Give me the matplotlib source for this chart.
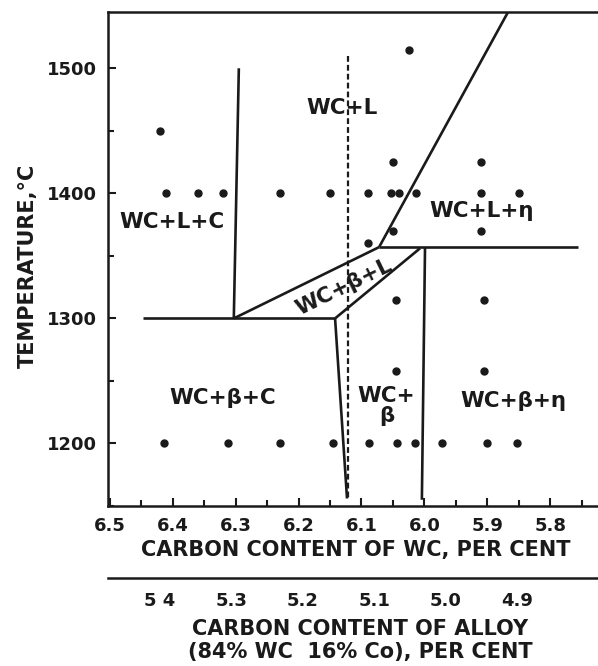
import matplotlib.pyplot as plt
from matplotlib.ticker import MultipleLocator, FixedLocator
import numpy as np

plt.rcParams['font.family'] = ['DejaVu Sans']
plt.rcParams['font.weight'] = 'bold'
plt.rcParams['axes.labelweight'] = 'bold'

# experimental points: carbon content of WC (%) and temperature (C)
row1400_c = [6.41, 6.36, 6.32, 6.23, 6.15, 6.09, 6.053, 6.04, 6.013, 5.91, 5.85]
row1200_c = [6.414, 6.312, 6.23, 6.145, 6.088, 6.044, 6.015, 5.972, 5.901, 5.853]
other_c = [6.42, 6.025, 6.05, 5.91, 6.05, 6.09, 5.91, 6.045, 5.905, 6.045, 5.905]
other_t = [1450, 1515, 1425, 1425, 1370, 1360, 1370, 1315, 1315, 1258, 1258]

# phase boundaries (carbon %, temperature)
boundaries = [
    ([6.295, 6.303], [1500, 1300]),   # WC+L+C | WC+L
    ([6.448, 6.142], [1300, 1300]),   # eutectic
    ([6.303, 6.072], [1300, 1357]),   # WC+b+L upper edge
    ([6.142, 6.007], [1300, 1356]),   # WC+b+L lower edge
    ([6.072, 5.867], [1357, 1545]),   # WC+L | WC+L+eta
    ([6.072, 5.756], [1357, 1357]),   # eta horizontal
    ([5.999, 6.004], [1357, 1155]),   # WC+b | WC+b+eta
    ([6.142, 6.123], [1300, 1156]),   # WC+b+C | WC+b
]
stoich_c = [6.122, 6.122]
stoich_t = [1510, 1156]

regions = ['WC+L+C', 'WC+L', 'WC+L+η', 'WC+β+L', 'WC+β+C', 'WC+\nβ', 'WC+β+η']
region_c = [6.401, 6.131, 5.909, 6.128, 6.32, 6.06, 5.859]
region_t = [1377, 1468, 1386, 1325, 1236, 1230, 1234]
region_rot = [0, 0, 0, 26, 0, 0, 0]

alloy_ticks = [5.4, 5.3, 5.2, 5.1, 5.0, 4.9]
# alloy carbon scale as drawn (linear against WC carbon)
A0, W0, K = 5.4, 6.4205, 1.135

fig = plt.figure(figsize=(5.98, 6.66), dpi=100)
ax = fig.add_axes([108 / 598, 1 - 506 / 666, 490 / 598, 494 / 666])

ink = '#1a1a1a'
for xs, ys in boundaries:
    ax.plot(xs, ys, color=ink, lw=1.9, solid_capstyle='butt')
ax.plot(stoich_c, stoich_t, color=ink, lw=1.6, linestyle=(0, (2.6, 1.4)))

ax.plot(row1400_c, [1400] * len(row1400_c), 'o', color=ink, ms=5)
ax.plot(row1200_c, [1200] * len(row1200_c), 'o', color=ink, ms=5)
ax.plot(other_c, other_t, 'o', color=ink, ms=5)

for lab, c, t, r in zip(regions, region_c, region_t, region_rot):
    ax.text(c, t, lab, ha='center', va='center', rotation=r, fontsize=15.5,
            color=ink, linespacing=0.95)

ax.xaxis.set_major_locator(MultipleLocator(0.1))
ax.xaxis.set_minor_locator(MultipleLocator(0.05))
ax.yaxis.set_major_locator(MultipleLocator(100))
ax.yaxis.set_minor_locator(MultipleLocator(50))
ax.xaxis.set_major_formatter(lambda v, pos: '%.1f' % v)
ax.tick_params(which='both', direction='in', width=1.5, color=ink, labelcolor=ink)
ax.tick_params(which='major', length=6, labelsize=13, pad=8)
ax.tick_params(which='minor', length=4)
ax.set_xlim(6.503, 5.724)
ax.set_ylim(1150, 1545)

ax.spines['right'].set_visible(False)
for s in ['left', 'top', 'bottom']:
    ax.spines[s].set_linewidth(1.8)
    ax.spines[s].set_color(ink)

ax.set_xlabel('CARBON CONTENT OF WC, PER CENT', fontsize=15, color=ink, va='center')
ax.xaxis.set_label_coords(0.506, -0.089)
ax.set_ylabel('TEMPERATURE,°C', fontsize=15, color=ink, va='center')
ax.yaxis.set_label_coords(-0.163, 0.486)

sec = ax.secondary_xaxis(-0.146, functions=(lambda w: A0 - (W0 - w) / K,
                                            lambda a: W0 - (A0 - a) * K))
sec.xaxis.set_major_locator(FixedLocator(alloy_ticks))
sec.set_xticklabels(['5 4', '5.3', '5.2', '5.1', '5.0', '4.9'])
sec.tick_params(length=0, labelsize=13, pad=10, labelcolor=ink)
sec.spines['bottom'].set_linewidth(1.8)
sec.spines['bottom'].set_color(ink)

ax.text(0.515, -0.273, 'CARBON CONTENT OF ALLOY\n(84% WC  16% Co), PER CENT',
        transform=ax.transAxes, ha='center', va='center', fontsize=15,
        color=ink, linespacing=1.2)

fig.savefig('out.png', dpi=100)
